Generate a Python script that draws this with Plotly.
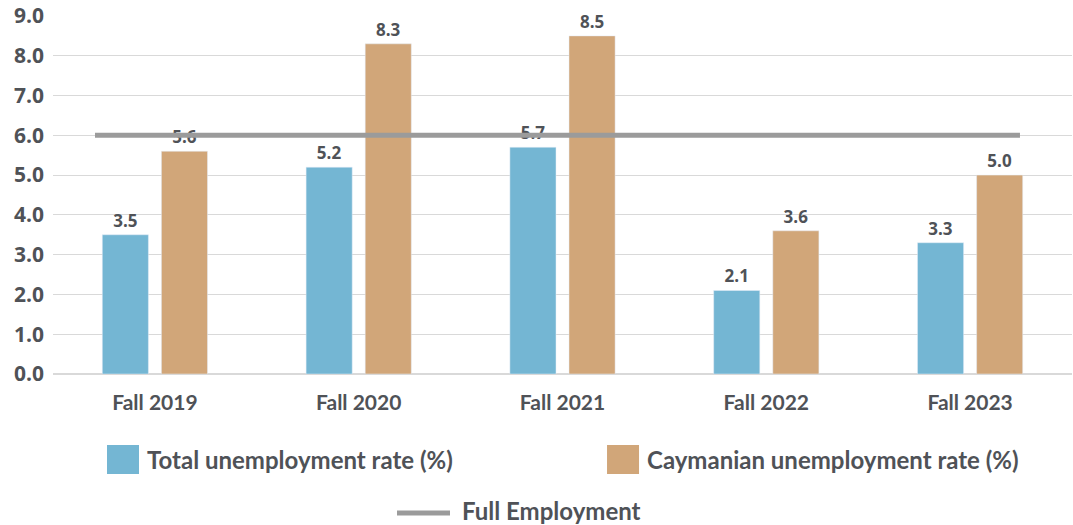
import plotly.graph_objects as go

categories = ["Fall 2019", "Fall 2020", "Fall 2021", "Fall 2022", "Fall 2023"]
total_rate = [3.5, 5.2, 5.7, 2.1, 3.3]
caymanian_rate = [5.6, 8.3, 8.5, 3.6, 5.0]
full_employment = [6.0, 6.0]
y_ticks = [0, 1, 2, 3, 4, 5, 6, 7, 8, 9]
series_names = ["Total unemployment rate (%)", "Caymanian unemployment rate (%)", "Full Employment"]

BLUE = "#74b6d3"
TAN = "#d1a679"
GRAY = "#9b9b9b"
TXT = "#4f5257"

idx = list(range(len(categories)))
label_font = dict(family="Open Sans", size=17, color=TXT, weight="bold")

fig = go.Figure()
fig.add_trace(go.Bar(
    x=idx, y=total_rate, name=series_names[0],
    marker=dict(color=BLUE), text=[f"{v:.1f}" for v in total_rate],
    textposition="outside", textfont=label_font, cliponaxis=False,
))
fig.add_trace(go.Bar(
    x=idx, y=caymanian_rate, name=series_names[1],
    marker=dict(color=TAN), text=[f"{v:.1f}" for v in caymanian_rate],
    textposition="outside", textfont=label_font, cliponaxis=False,
))
fig.add_trace(go.Scatter(
    x=[idx[0], idx[-1]], y=full_employment, mode="lines", name=series_names[2],
    line=dict(color=GRAY, width=5), xaxis="x2",
))

# manual legend (paper coordinates)
leg_font = dict(family="Lato", size=24, color=TXT, weight="bold")
shapes = [
    dict(type="rect", xref="paper", yref="paper", x0=0.0530, x1=0.0844, y0=-0.2793, y1=-0.1983,
         fillcolor=BLUE, line=dict(width=0)),
    dict(type="rect", xref="paper", yref="paper", x0=0.5437, x1=0.5751, y0=-0.2793, y1=-0.1983,
         fillcolor=TAN, line=dict(width=0)),
    dict(type="line", xref="paper", yref="paper", x0=0.3376, x1=0.3896, y0=-0.3883, y1=-0.3883,
         line=dict(color=GRAY, width=5)),
]
annotations = [
    dict(text=series_names[0], xref="paper", yref="paper", x=0.0903, y=-0.2402,
         xanchor="left", yanchor="middle", showarrow=False, font=leg_font),
    dict(text=series_names[1], xref="paper", yref="paper", x=0.581, y=-0.2402,
         xanchor="left", yanchor="middle", showarrow=False, font=leg_font),
    dict(text=series_names[2], xref="paper", yref="paper", x=0.3994, y=-0.3799,
         xanchor="left", yanchor="middle", showarrow=False, font=leg_font),
]

fig.update_layout(
    width=1073, height=525,
    margin=dict(l=53, r=1, t=16, b=151, autoexpand=False),
    paper_bgcolor="white", plot_bgcolor="white",
    barmode="group", bargap=0.42, bargroupgap=0.22,
    showlegend=False,
    shapes=shapes, annotations=annotations,
    xaxis=dict(
        range=[-0.5, len(categories) - 0.5], tickvals=idx, ticktext=categories,
        showgrid=False, zeroline=False, ticks="", ticklabelstandoff=14,
        tickfont=dict(family="Lato", size=21, color=TXT, weight="bold"),
    ),
    xaxis2=dict(
        overlaying="x", range=[-0.1816, 4.225], visible=False,
    ),
    yaxis=dict(
        range=[0, 9], tickvals=y_ticks, tickformat=".1f",
        showgrid=True, gridcolor="#d9d9d9", gridwidth=1,
        zeroline=True, zerolinecolor="#d9d9d9", zerolinewidth=1.5,
        ticks="", ticklabelstandoff=8, ticklabeloverflow="allow",
        tickfont=dict(family="Open Sans", size=21, color=TXT, weight="bold"),
    ),
)

fig.write_html(
    "out.html",
    config={"displayModeBar": False},
    post_script="document.body.style.margin='0px';document.body.style.overflow='hidden';",
)
